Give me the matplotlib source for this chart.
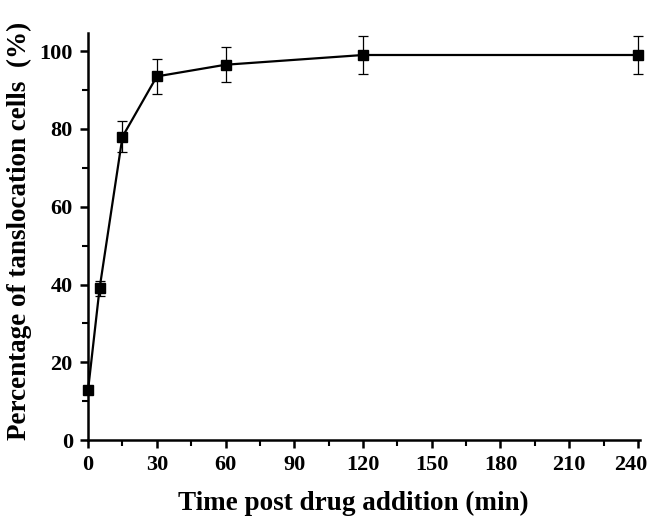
import matplotlib
matplotlib.use("Agg")
import matplotlib.pyplot as plt
from matplotlib.ticker import MultipleLocator, FixedLocator, FixedFormatter

# Translocation time course
time_min = [0, 5, 15, 30, 60, 120, 240]
percent = [13, 39, 78, 93.5, 96.5, 99, 99]
err = [0, 2, 4, 4.5, 4.5, 5, 5]

x_ticks = [0, 30, 60, 90, 120, 150, 180, 210, 240]
y_ticks = [0, 20, 40, 60, 80, 100]

plt.rcParams['font.family'] = ['Liberation Serif', 'DejaVu Serif']
plt.rcParams['font.weight'] = 'bold'

fig = plt.figure(figsize=(6.48, 5.19), dpi=100)
ax = fig.add_axes([0.136, 0.152, 0.852, 0.784])

ax.errorbar(time_min, percent, yerr=err, color='black', marker='s', markersize=7,
            linewidth=1.6, elinewidth=0.9, capsize=3.5, capthick=0.9, clip_on=False, zorder=3)

ax.set_xlim(0, 241)
ax.set_ylim(0, 104.6)
ax.xaxis.set_major_locator(FixedLocator(x_ticks))
# the last label is drawn separately so it stays inside the figure edge
ax.xaxis.set_major_formatter(FixedFormatter([str(t) for t in x_ticks[:-1]] + ['']))
ax.xaxis.set_minor_locator(MultipleLocator(15))
ax.set_yticks(y_ticks)
ax.yaxis.set_minor_locator(MultipleLocator(10))

for s in ['top', 'right']:
    ax.spines[s].set_visible(False)
for s in ['left', 'bottom']:
    ax.spines[s].set_linewidth(1.8)

ax.tick_params(which='major', direction='out', length=6, width=1.8, labelsize=16)
ax.tick_params(which='minor', direction='out', length=4, width=1.5)
ax.tick_params(axis='x', pad=5)
ax.tick_params(axis='y', pad=5)

ax.annotate(str(x_ticks[-1]), xy=(x_ticks[-1], 0), xycoords=('data', 'axes fraction'),
            xytext=(-5, -11), textcoords='offset points', ha='center', va='top',
            fontsize=16, fontweight='bold', annotation_clip=False)

ax.set_xlabel('Time post drug addition (min)', fontsize=19.5, fontweight='bold')
ax.xaxis.set_label_coords(0.48, -0.125)
ax.set_ylabel('Percentage of tanslocation cells  (%)', fontsize=19.5, fontweight='bold')
ax.yaxis.set_label_coords(-0.101, 0.513)

fig.savefig('out.png', dpi=100)
